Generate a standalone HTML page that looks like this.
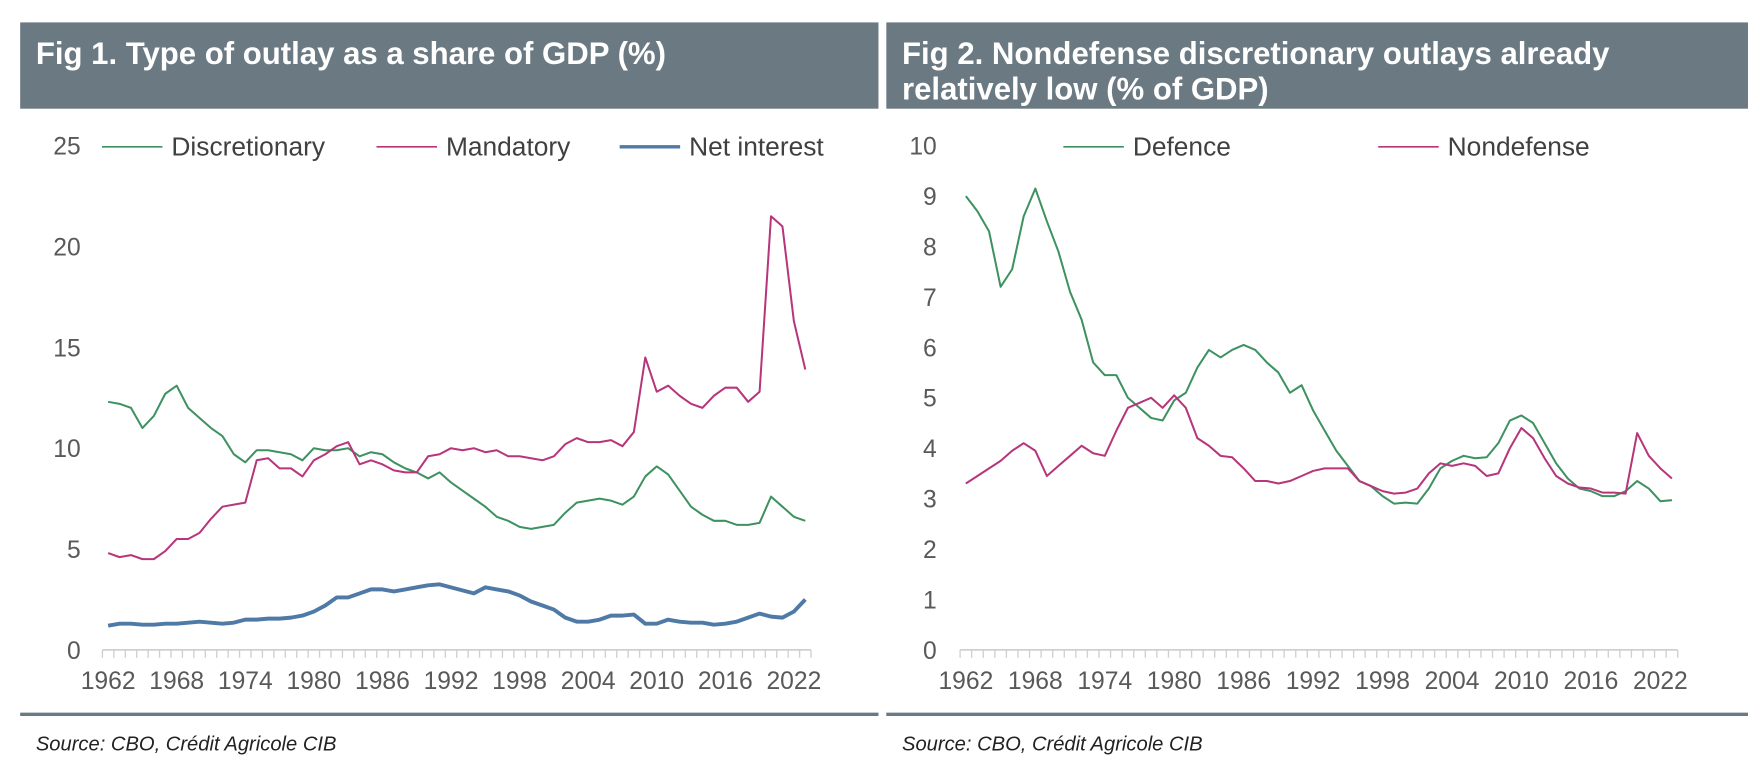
<!DOCTYPE html>
<html><head><meta charset="utf-8"><style>
body{margin:0;background:#fff;width:1757px;height:763px;overflow:hidden;font-family:"Liberation Sans",sans-serif;}
svg text{font-family:"Liberation Sans",sans-serif;}
</style></head><body>
<svg id="c" width="1757" height="763">
<g transform="scale(1.1205)">
<rect x="18" y="20" width="766" height="77" fill="#6b7a82"/>
<text x="32" y="57" fill="#fff" font-size="27.8" font-weight="bold">Fig 1. Type of outlay as a share of GDP (%)</text>
<rect x="791" y="20" width="769" height="77" fill="#6b7a82"/>
<text x="805" y="57" fill="#fff" font-size="27.8" font-weight="bold">Fig 2. Nondefense discretionary outlays already</text>
<text x="805" y="89" fill="#fff" font-size="27.8" font-weight="bold">relatively low (% of GDP)</text>
<rect x="18" y="636" width="766" height="3" fill="#6b7a82"/>
<rect x="791" y="636" width="769" height="3" fill="#6b7a82"/>
<text x="32" y="670" fill="#222" font-size="18" font-style="italic">Source: CBO, Crédit Agricole CIB</text>
<text x="805" y="670" fill="#222" font-size="18" font-style="italic">Source: CBO, Crédit Agricole CIB</text>
<g id="g1"></g><g id="g2"></g>
</g>
</svg>
<script>
const years=[];for(let y=1962;y<=2023;y++)years.push(y);
const xTicks=[1962,1968,1974,1980,1986,1992,1998,2004,2010,2016,2022];
const y1Ticks=[0,5,10,15,20,25];
const y2Ticks=[0,1,2,3,4,5,6,7,8,9,10];
const discretionary=[12.3,12.2,12.0,11.0,11.6,12.7,13.1,12.0,11.5,11.0,10.6,9.7,9.3,9.9,9.9,9.8,9.7,9.4,10.0,9.9,9.9,10.0,9.6,9.8,9.7,9.3,9.0,8.8,8.5,8.8,8.3,7.9,7.5,7.1,6.6,6.4,6.1,6.0,6.1,6.2,6.8,7.3,7.4,7.5,7.4,7.2,7.6,8.6,9.1,8.7,7.9,7.1,6.7,6.4,6.4,6.2,6.2,6.3,7.6,7.1,6.6,6.4];
const mandatory=[4.8,4.6,4.7,4.5,4.5,4.9,5.5,5.5,5.8,6.5,7.1,7.2,7.3,9.4,9.5,9.0,9.0,8.6,9.4,9.7,10.1,10.3,9.2,9.4,9.2,8.9,8.8,8.8,9.6,9.7,10.0,9.9,10.0,9.8,9.9,9.6,9.6,9.5,9.4,9.6,10.2,10.5,10.3,10.3,10.4,10.1,10.8,14.5,12.8,13.1,12.6,12.2,12.0,12.6,13.0,13.0,12.3,12.8,21.5,21.0,16.3,13.9];
const netInterest=[1.2,1.3,1.3,1.25,1.25,1.3,1.3,1.35,1.4,1.35,1.3,1.35,1.5,1.5,1.55,1.55,1.6,1.7,1.9,2.2,2.6,2.6,2.8,3.0,3.0,2.9,3.0,3.1,3.2,3.25,3.1,2.95,2.8,3.1,3.0,2.9,2.7,2.4,2.2,2.0,1.6,1.4,1.4,1.5,1.7,1.7,1.75,1.3,1.3,1.5,1.4,1.35,1.35,1.25,1.3,1.4,1.6,1.8,1.65,1.6,1.9,2.5];
const defence=[9.0,8.7,8.3,7.2,7.55,8.6,9.15,8.5,7.9,7.1,6.55,5.7,5.45,5.45,5.0,4.8,4.6,4.55,4.95,5.1,5.6,5.95,5.8,5.95,6.05,5.95,5.7,5.5,5.1,5.25,4.75,4.35,3.95,3.65,3.35,3.25,3.05,2.9,2.92,2.9,3.2,3.6,3.75,3.85,3.8,3.82,4.1,4.55,4.65,4.5,4.1,3.7,3.4,3.2,3.15,3.05,3.05,3.15,3.35,3.2,2.95,2.97];
const nondefense=[3.3,3.45,3.6,3.75,3.95,4.1,3.95,3.45,3.65,3.85,4.05,3.9,3.85,4.35,4.8,4.9,5.0,4.8,5.05,4.8,4.2,4.05,3.85,3.82,3.6,3.35,3.35,3.3,3.35,3.45,3.55,3.6,3.6,3.6,3.35,3.25,3.15,3.1,3.12,3.2,3.5,3.7,3.65,3.7,3.65,3.45,3.5,4.0,4.4,4.2,3.8,3.45,3.3,3.22,3.2,3.12,3.12,3.1,4.3,3.85,3.6,3.4];
const NS='http://www.w3.org/2000/svg';
function mk(p,t,a,txt){const e=document.createElementNS(NS,t);for(const k in a)e.setAttribute(k,a[k]);if(txt!==undefined)e.textContent=txt;p.appendChild(e);return e;}
function chart(gid,x0,step,ymax,yTicks,series,legends,labelX){
 const g=document.getElementById(gid);
 const X=y=>x0+(y-1962)*step;
 const Y=v=>580-v*450/ymax;
 const ax=mk(g,'line',{x1:X(1962)-step/2,x2:X(2023)+step/2,y1:580,y2:580,stroke:'#d0d0d0','stroke-width':1.5});
 
 for(let y=1962;y<=2024;y++){const t=mk(g,'line',{x1:X(y)-step/2,x2:X(y)-step/2,y1:580,y2:587,stroke:'#d0d0d0','stroke-width':1.2});
  }
 yTicks.forEach(t=>{const e=mk(g,'text',{x:labelX,y:Y(t)+8,'font-size':22,fill:'#595959','text-anchor':'end'},t);
  });
 xTicks.forEach(t=>{const e=mk(g,'text',{x:X(t),y:615,'font-size':22,fill:'#595959','text-anchor':'middle'},t);
  });
 series.forEach(s=>{const pts=s.data.map((v,i)=>X(years[i]).toFixed(1)+','+Y(v).toFixed(1)).join(' ');
  const e=mk(g,'polyline',{points:pts,fill:'none',stroke:s.color,'stroke-width':s.w,'stroke-linejoin':'round'});
  });
 legends.forEach(l=>{const lg=mk(g,'g',{});
  
  mk(lg,'line',{x1:l.x,x2:l.x+54,y1:131,y2:131,stroke:l.color,'stroke-width':l.w});
  mk(lg,'text',{x:l.x+62,y:139,'font-size':23.5,fill:'#404040'},l.label);});
}
chart('g1',96.5,10.2,25,y1Ticks,[
 {data:discretionary,color:'#3e9160',w:1.8,name:'discretionary'},
 {data:mandatory,color:'#b7357a',w:1.8,name:'mandatory'},
 {data:netInterest,color:'#4f7aa6',w:3.5,name:'net-interest'}],
 [{x:91,label:'Discretionary',color:'#3e9160',w:1.5,name:'discretionary'},
  {x:336,label:'Mandatory',color:'#b7357a',w:1.5,name:'mandatory'},
  {x:553,label:'Net interest',color:'#4f7aa6',w:3,name:'net-interest'}],72);
chart('g2',862,10.33,10,y2Ticks,[
 {data:defence,color:'#3e9160',w:1.8,name:'defence'},
 {data:nondefense,color:'#b7357a',w:1.8,name:'nondefense'}],
 [{x:949,label:'Defence',color:'#3e9160',w:1.5,name:'defence'},
  {x:1230,label:'Nondefense',color:'#b7357a',w:1.5,name:'nondefense'}],836);
</script>
</body></html>
